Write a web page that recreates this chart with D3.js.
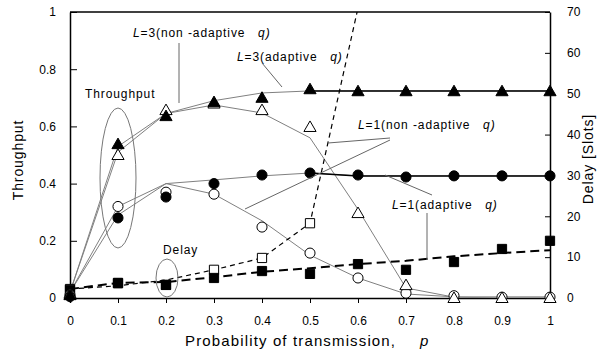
<!DOCTYPE html>
<html><head><meta charset="utf-8">
<script src="https://cdn.jsdelivr.net/npm/d3@7"></script>
<style>
body{margin:0;background:#fff;}
text{font-family:"Liberation Sans",Arial,sans-serif;fill:#000;}
</style></head>
<body><svg id="c" width="608" height="354"></svg>
<script>
// ---- data ----
const pValues = [0,0.1,0.2,0.3,0.4,0.5,0.6,0.7,0.8,0.9,1];
const xTickLabels = ["0","0.1","0.2","0.3","0.4","0.5","0.6","0.7","0.8","0.9","1"];
const leftTicks = [0,0.2,0.4,0.6,0.8,1];
const rightTicks = [0,10,20,30,40,50,60,70];
// throughput markers
const thrL3Adaptive    = [0.01,0.538,0.636,0.685,0.70,0.73,0.723,0.723,0.723,0.723,0.723];
const thrL3NonAdaptive = [0.015,0.50,0.657,0.68,0.657,0.598,0.297,0.045,0.0,0.0,0.0];
const thrL1Adaptive    = [0.005,0.28,0.353,0.40,0.43,0.437,0.43,0.423,0.427,0.427,0.427];
const thrL1NonAdaptive = [0.01,0.32,0.37,0.363,0.248,0.157,0.07,0.017,0.008,0.003,0.003];
// throughput trend lines
const lineL3Adaptive    = [0.02,0.53,0.645,0.69,0.717,0.724,0.724,0.724,0.724,0.724,0.724];
const lineL3NonAdaptive = [0.02,0.51,0.645,0.675,0.647,0.56,0.31,0.035,0.003,0.0,0.0];
const lineL1Adaptive    = [0.02,0.29,0.40,0.413,0.427,0.437,0.427,0.427,0.427,0.427,0.427];
const lineL1NonAdaptive = [0.02,0.32,0.40,0.363,0.27,0.15,0.07,0.014,0.004,0.004,0.004];
// delay markers
const delayAdaptive    = [2.0,3.7,3.2,4.9,6.6,5.9,8.3,6.9,8.8,12.0,14.0];
const delayNonAdaptive = [2.2,3.6,3.2,6.9,9.8,18.3,null,null,null,null,null];
// delay trend lines
const delayAdaptiveLine    = [2.2,3.7,3.9,5.1,6.4,7.3,8.3,9.1,10.2,11.0,11.7];
const delayNonAdaptiveLine = [2.2,3.0,4.4,6.9,9.8,18.3,71,null,null,null,null];

// ---- layout ----
const svg = d3.select("#c");
const L=70,R=550,T=12,B=298;
const x = d3.scaleLinear().domain([0,1]).range([L,R]);
const yL = d3.scaleLinear().domain([0,1]).range([B,T]);
const yR = d3.scaleLinear().domain([0,70]).range([B,T]);

svg.append("defs").append("clipPath").attr("id","clip")
  .append("rect").attr("x",L).attr("y",T).attr("width",R-L).attr("height",B-T);

// axes
const fmtX = (d,i)=>xTickLabels[i];
const ax = svg.append("g").attr("transform",`translate(0,${B})`)
  .call(d3.axisBottom(x).tickValues(pValues).tickFormat(fmtX).tickSize(5).tickPadding(13));
const al = svg.append("g").attr("transform",`translate(${L},0)`)
  .call(d3.axisLeft(yL).tickValues(leftTicks).tickFormat(d=>d3.format("~g")(d)).tickSizeInner(-7).tickSizeOuter(0).tickPadding(14));
const ar = svg.append("g").attr("transform",`translate(${R},0)`)
  .call(d3.axisRight(yR).tickValues(rightTicks).tickSizeInner(-5).tickSizeOuter(0).tickPadding(17));
[ax,al,ar].forEach(g=>{
  g.selectAll("text").attr("font-size",12).attr("font-family","Liberation Sans, Arial, sans-serif");
  g.select(".domain").attr("stroke","#000").attr("stroke-width",1.5);
  g.selectAll(".tick line").attr("stroke","#000");
});
svg.append("line").attr("x1",L).attr("x2",R).attr("y1",T).attr("y2",T).attr("stroke","#000").attr("stroke-width",1.5);

const plot = svg.append("g").attr("clip-path","url(#clip)");

function drawLine(vals, scale, opts){
  const data = pValues.map((p,i)=>[p,vals[i]]).filter(d=>d[1]!==null && (opts.from===undefined || d[0]>=opts.from));
  plot.append("path").datum(data)
    .attr("d", d3.line().x(d=>x(d[0])).y(d=>scale(d[1])))
    .attr("fill","none").attr("stroke",opts.color||"#808080")
    .attr("stroke-width",opts.width||1)
    .attr("stroke-dasharray",opts.dash||null);
}
// throughput lines
drawLine(lineL3NonAdaptive,yL,{});
drawLine(lineL1NonAdaptive,yL,{});
drawLine(lineL3Adaptive,yL,{});
drawLine(lineL1Adaptive,yL,{});
drawLine(lineL3Adaptive,yL,{from:0.5,color:"#000",width:1.5});
drawLine(lineL1Adaptive,yL,{from:0.5,color:"#000",width:1.5});
// delay lines
drawLine(delayNonAdaptiveLine,yR,{color:"#000",width:1.2,dash:"5,4"});
drawLine(delayAdaptiveLine,yR,{color:"#000",width:2,dash:"9,5"});

// markers
function markers(vals, scale, type, filled){
  const data = pValues.map((p,i)=>[p,vals[i]]).filter(d=>d[1]!==null);
  const sym = {tri:d3.symbolTriangle, circ:d3.symbolCircle, sq:d3.symbolSquare}[type];
  const size = {tri:64, circ:80, sq:85}[type];
  svg.append("g").selectAll("path").data(data).join("path")
    .attr("transform",d=>`translate(${x(d[0])},${scale(d[1]) + (type==="tri"?1:0)})`)
    .attr("d", d3.symbol(sym,size)())
    .attr("fill", filled?"#000":"#fff")
    .attr("stroke","#000").attr("stroke-width",1);
}
markers(delayNonAdaptive,yR,"sq",false);
markers(delayAdaptive,yR,"sq",true);
markers(thrL1NonAdaptive,yL,"circ",false);
markers(thrL1Adaptive,yL,"circ",true);
markers(thrL3NonAdaptive,yL,"tri",false);
markers(thrL3Adaptive,yL,"tri",true);

// annotations
const ann = svg.append("g");
function label(xp,yp,parts){
  const t = ann.append("text").attr("x",xp).attr("y",yp).attr("font-size",12)
    .attr("letter-spacing",0.9).attr("xml:space","preserve");
  parts.forEach(([s,it])=>t.append("tspan").text(s).attr("font-style",it?"italic":null));
}
label(133,37,[["L",1],["=3(non -adaptive   ",0],["q)",1]]);
label(237,61,[["L",1],["=3(adaptive   ",0],["q)",1]]);
label(358,129,[["L",1],["=1(non -adaptive   ",0],["q)",1]]);
label(392,209,[["L",1],["=1(adaptive   ",0],["q)",1]]);
label(85,98,[["Throughput",0]]);
label(163,254,[["Delay",0]]);

const lines = [[179,43,179,103],[262,63,282,87],[390,138,328,143],[390,140,245,209],[427,213,427,260],[432,195,385,175]];
ann.selectAll("line.lead").data(lines).join("line").attr("class","lead")
  .attr("x1",d=>d[0]).attr("y1",d=>d[1]).attr("x2",d=>d[2]).attr("y2",d=>d[3])
  .attr("stroke","#666").attr("stroke-width",1);
ann.append("ellipse").attr("cx",118).attr("cy",178).attr("rx",18).attr("ry",70)
  .attr("fill","none").attr("stroke","#777").attr("stroke-width",1);
ann.append("ellipse").attr("cx",167).attr("cy",278).attr("rx",11).attr("ry",19)
  .attr("fill","none").attr("stroke","#777").attr("stroke-width",1);

// axis titles
svg.append("text").attr("transform","translate(23,160) rotate(-90)").attr("text-anchor","middle")
  .attr("font-size",14).attr("letter-spacing",0.9).text("Throughput");
svg.append("text").attr("transform","translate(593,159) rotate(-90)").attr("text-anchor","middle")
  .attr("font-size",14).attr("letter-spacing",0.9).text("Delay [Slots]");
svg.append("text").attr("x",185).attr("y",346).attr("font-size",15)
  .attr("textLength",210).attr("lengthAdjust","spacing").text("Probability of transmission,");
svg.append("text").attr("x",420).attr("y",346).attr("font-size",15).attr("font-style","italic").text("p");
</script></body></html>
